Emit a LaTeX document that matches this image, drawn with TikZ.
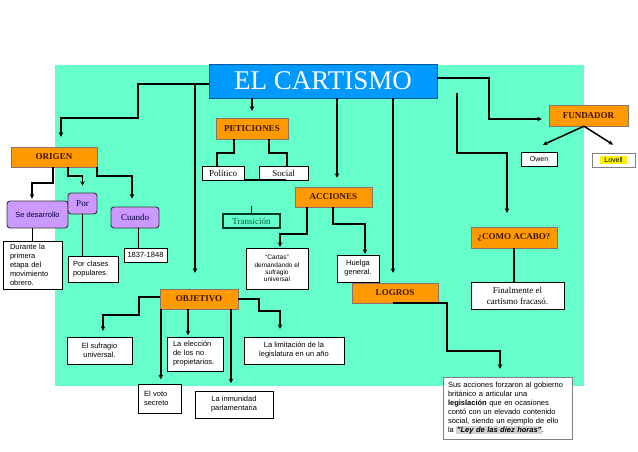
\documentclass[tikz,border=0pt]{standalone}
\usepackage{fontspec}
\setmainfont{Liberation Serif}
\setsansfont{Liberation Sans}
\usepackage{tikz}
\usepackage{xcolor}
\usetikzlibrary{arrows.meta,calc}

\definecolor{fondo}{RGB}{102,255,204}
\definecolor{naranja}{RGB}{255,153,0}
\definecolor{azul}{RGB}{0,153,255}
\definecolor{lila}{RGB}{204,153,255}
\definecolor{marron}{RGB}{60,20,0}
\definecolor{verdeosc}{RGB}{0,90,60}

\begin{document}
\begin{tikzpicture}[x=1pt,y=-1pt,
  cabecera/.style={draw=marron!60,fill=naranja,inner sep=0pt,text=marron,font=\fontsize{9}{10}\selectfont\bfseries},
  caja/.style={draw,fill=white,inner sep=0pt,align=center,font=\sffamily\fontsize{7.5}{9}\selectfont},
  cajaserif/.style={caja,font=\fontsize{9}{11}\selectfont},
  morado/.style={draw=black!80,fill=lila,rounded corners=3pt,inner sep=0pt,line width=0.9pt,text=black!80!blue},
  conector/.style={line width=1.5pt},
  flecha/.style={conector,-{Stealth[length=4.5pt,width=4.5pt]}},
  fino/.style={line width=0.8pt}]
\useasboundingbox (0,0) rectangle (638,451);
\fill[fondo] (55,65) rectangle (584,386);

% titulo
\node[cabecera,fill=azul,draw=azul!60!black,text=white,font=\fontsize{27}{30}\selectfont,minimum width=228pt,minimum height=34pt] (cartismo) at (323,81) {EL CARTISMO};

% peticiones
\node[cabecera,minimum width=72pt,minimum height=21pt] (peticiones) at (252,128.5) {PETICIONES};
\node[cajaserif,minimum width=42pt,minimum height=14pt] (politico) at (223,173) {Político};
\node[cajaserif,minimum width=49pt,minimum height=14pt] (social) at (283.5,173) {Social};
\node[draw=verdeosc!60!black,line width=1.5pt,fill=fondo,text=verdeosc,inner sep=0pt,font=\fontsize{9}{10}\selectfont,minimum width=57pt,minimum height=14pt] (transicion) at (251.5,221) {Transición};

% acciones
\node[cabecera,minimum width=77pt,minimum height=20pt] (acciones) at (333.5,197) {ACCIONES};
\node[caja,font=\sffamily\fontsize{6.5}{7.3}\selectfont,minimum width=62pt,minimum height=41pt] (cartas) at (277,268.5) {``Cartas''\\demandando el\\sufragio\\universal};
\node[caja,minimum width=42pt,minimum height=27pt] (huelga) at (358,268.5) {Huelga\\general.};

% logros
\node[cabecera,minimum width=86pt,minimum height=20pt] (logros) at (395,293) {LOGROS};
\node[caja,draw=gray,text width=119pt,align=left,inner xsep=5pt,minimum height=62pt] (sus) at (507.5,408) {Sus acciones forzaron al gobierno\\británico a articular una\\\textbf{legislación} que en ocasiones\\contó con un elevado contenido\\social, siendo un ejemplo de ello\\la {\fboxsep=0.5pt\colorbox{gray!35}{\textbf{\textit{"Ley de las diez horas"}}}}.};

% fundador
\node[cabecera,minimum width=79pt,minimum height=21pt] (fundador) at (588.5,115.5) {FUNDADOR};
\node[caja,font=\sffamily\fontsize{7}{8}\selectfont,minimum width=36pt,minimum height=14pt] (owen) at (539,159) {Owen};
\node[caja,draw=gray,line width=0.8pt,font=\sffamily\fontsize{7}{8}\selectfont,minimum width=43pt,minimum height=14pt] (lovell) at (613.5,160) {{\fboxsep=1pt\colorbox{yellow}{\hspace{3pt}Lovell\hspace{3pt}}}};

% final
\node[cabecera,minimum width=86pt,minimum height=21pt] (acabo) at (514,237.5) {¿COMO ACABO?};
\node[cajaserif,minimum width=93pt,minimum height=27pt] (finalmente) at (517.5,295.5) {Finalmente el\\cartismo fracasó.};

% origen
\node[cabecera,minimum width=86pt,minimum height=20pt] (origen) at (54,157) {ORIGEN};
\node[morado,font=\sffamily\fontsize{7.5}{9}\selectfont,minimum width=61pt,minimum height=27pt] (desarrollo) at (37.5,214.5) {Se desarrollo};
\node[morado,font=\fontsize{9}{10}\selectfont,minimum width=29pt,minimum height=21pt] (por) at (82.5,203.5) {Por};
\node[morado,font=\fontsize{9}{10}\selectfont,minimum width=48pt,minimum height=21pt] (cuando) at (135,217.5) {Cuando};
\node[caja,text width=45pt,align=left,inner xsep=7pt,minimum height=48pt] (durante) at (32.5,265) {Durante la\\primera\\etapa del\\movimiento\\obrero.};
\node[caja,text width=40pt,align=left,inner xsep=5pt,minimum height=26pt] (porclases) at (93,269) {Por clases\\populares.};
\node[caja,minimum width=43pt,minimum height=14pt] (anios) at (145.5,255) {1837-1848};

% objetivo
\node[cabecera,minimum width=78pt,minimum height=20pt] (objetivo) at (199,299) {OBJETIVO};
\node[caja,minimum width=65pt,minimum height=27pt] (sufragio) at (99.5,350.5) {El sufragio\\universal.};
\node[caja,text width=44pt,align=left,inner xsep=6pt,minimum height=34pt] (eleccion) at (195,354) {La elección\\de los no\\propietarios.};
\node[caja,minimum width=100pt,minimum height=27pt] (limitacion) at (294,350.5) {La limitación de la\\legislatura en un año};
\node[caja,text width=31pt,align=left,inner xsep=6pt,minimum height=29pt] (voto) at (159.5,398.5) {El voto\\secreto};
\node[caja,minimum width=78pt,minimum height=27pt] (inmunidad) at (234,404.5) {La inmunidad\\parlamentaria};

% conectores del titulo
\coordinate (ramal) at (195,84);
\draw[flecha,shorten >=10pt] ([yshift=-3pt]cartismo.west) -| (138,118) -| ([xshift=7pt]origen.north);
\draw[flecha] (ramal) -- ($(objetivo.north)+(-4,-16)$);
\draw[flecha,shorten >=7pt] (cartismo.south -| peticiones.north) -- (peticiones.north);
\draw[flecha] ($(acciones.north |- cartismo.south)+(3.5,0)$) -- ($(acciones.north)+(3.5,-9)$);
\draw[flecha] ($(logros.north |- cartismo.south)+(-2,0)$) -- ($(logros.north)+(-2,-10)$);
\draw[flecha,shorten >=7pt] ([yshift=3pt]cartismo.east) -| (489,119) -- ($(fundador.west)+(0,3.5)$);
\draw[flecha,shorten >=14pt] (457,93) |- (507,153) -- ($(acabo.north)+(-7,0)$);

% peticiones
\draw[conector] ($(peticiones.south)+(-18,0)$) -- ++(0,14) -| ($(politico.north)+(-6,0)$);
\draw[conector] ($(peticiones.south)+(17,0)$) -- ++(0,14) -| ($(social.north)+(3.5,0)$);
\draw[conector] (politico.south east) -- ($(social.south)+(2,0)$);
\draw[fino] (transicion.north) -- ++(0,-7);

% acciones
\draw[flecha,shorten >=1pt] ($(acciones.south)+(-26.5,0)$) -- ++(0,27) -| ($(cartas.north)+(3,0)$);
\draw[flecha,shorten >=1pt] ($(acciones.south)+(-0.5,0)$) -- ++(0,17) -| ($(huelga.north)+(7,0)$);

% logros
\draw[flecha,shorten >=8pt] ($(logros.south)+(-2,0)$) -| (447,351) -| ($(sus.north)+(-7.5,0)$);

% fundador
\draw[flecha] ($(fundador.south)+(-4.5,0)$) -- ($(owen.north)+(4,-7)$);
\draw[flecha] ($(fundador.south)+(-4.5,0)$) -- ($(lovell.north)+(-0.5,-8)$);
\draw[conector] (acabo.south) -- (acabo.south |- finalmente.north);

% origen
\draw[flecha,shorten >=2pt] ($(origen.south)+(-1,0)$) -- ++(0,16) -| ($(desarrollo.north)+(-5.5,0)$);
\draw[flecha,shorten >=7pt] ($(origen.south)+(14,0)$) -- ++(0,9) -| (por.north);
\draw[flecha,shorten >=8pt] (origen.south east) -- ++(0,9) -| ($(cuando.north)+(-3,0)$);
\draw[fino] ($(desarrollo.south)+(-5.5,0)$) -- ($(durante.north)+(-0.5,0)$);
\draw[conector] (por.south) -- (por.south |- porclases.north);
\draw[fino] ($(cuando.south)+(3,0)$) -- ($(anios.north)+(-7.5,0)$);

% objetivo
\draw[flecha,shorten >=6pt] ($(objetivo.west)+(0,-2)$) -| (139,315) -| ($(sufragio.north)+(3.5,0)$);
\draw[flecha] ($(objetivo.south west)+(1,0)$) -- ++(0,70);
\draw[flecha] ($(objetivo.south)+(-11,0)$) -- ++(0,26);
\draw[flecha] ($(objetivo.south)+(32,0)$) -- ++(0,74);
\draw[flecha,shorten >=8pt] (objetivo.east) -| (259,311) -| ($(limitacion.north)+(-14,0)$);
\end{tikzpicture}
\end{document}
